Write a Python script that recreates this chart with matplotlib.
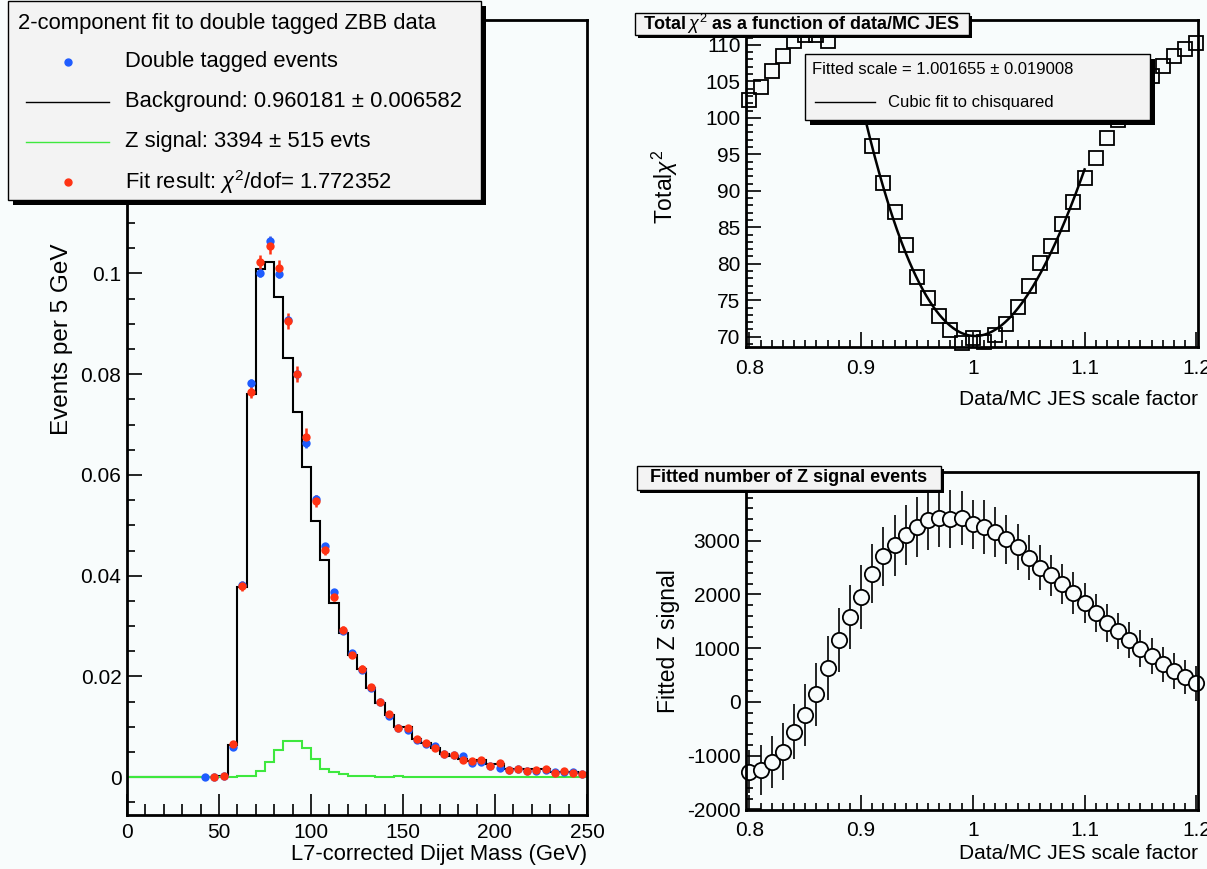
import numpy as np
import matplotlib.pyplot as plt
from matplotlib.patches import Rectangle
from matplotlib.lines import Line2D
from matplotlib.ticker import MultipleLocator, FuncFormatter

plt.rcParams['font.family'] = ['Liberation Sans', 'DejaVu Sans']
plt.rcParams['mathtext.fontset'] = 'custom'
plt.rcParams['mathtext.rm'] = 'Liberation Sans'
plt.rcParams['mathtext.it'] = 'Liberation Sans:italic'

# ---- left panel: dijet mass (5 GeV bins, 0..250) ----
bin_edges = np.arange(0, 255, 5)
background = [0, 0, 0, 0, 0, 0, 0, 0, 0, 0,
              0.0003, 0.0063, 0.0377, 0.0760, 0.1008, 0.1022, 0.0954, 0.0832, 0.0725, 0.0615,
              0.0509, 0.0432, 0.0346, 0.0286, 0.0242, 0.0214, 0.0177, 0.0148, 0.0123, 0.0099,
              0.0099, 0.0075, 0.0067, 0.0058, 0.0047, 0.0042, 0.0037, 0.0032, 0.0034, 0.0027,
              0.0027, 0.0017, 0.0017, 0.0016, 0.0016, 0.0016, 0.0010, 0.0010, 0.0010, 0.0008]
zsignal = [0, 0, 0, 0, 0, 0, 0, 0, 0, 0,
           0, 0.0001, 0.0002, 0.0003, 0.0013, 0.0030, 0.0054, 0.0072, 0.0071, 0.0058,
           0.0037, 0.0017, 0.0010, 0.0006, 0.0003, 0.0002, 0.0002, 0.0001, 0.0001, 0.0002,
           0, 0, 0, 0, 0, 0, 0, 0, 0, 0,
           0, 0, 0, 0, 0, 0, 0, 0, 0, 0]

centers = np.arange(42.5, 250, 5)
data_vals = [0.0000, 0.0000, 0.0003, 0.0060, 0.0381, 0.0782, 0.1001, 0.1065, 0.0999, 0.0907,
             0.0800, 0.0664, 0.0553, 0.0458, 0.0368, 0.0290, 0.0247, 0.0212, 0.0178, 0.0149,
             0.0122, 0.0097, 0.0094, 0.0073, 0.0066, 0.0062, 0.0046, 0.0044, 0.0042, 0.0029,
             0.0031, 0.0023, 0.0019, 0.0015, 0.0016, 0.0012, 0.0012, 0.0015, 0.0010, 0.0011,
             0.0011, 0.0007]
data_err = [0.0001, 0.0001, 0.0001, 0.0003, 0.0007, 0.0008, 0.0009, 0.0010, 0.0009, 0.0009,
            0.0009, 0.0010, 0.0008, 0.0007, 0.0006, 0.0005, 0.0005, 0.0004, 0.0004, 0.0004,
            0.0003, 0.0003, 0.0003, 0.0003, 0.0003, 0.0002, 0.0002, 0.0002, 0.0002, 0.0002,
            0.0002, 0.0002, 0.0001, 0.0001, 0.0001, 0.0001, 0.0001, 0.0001, 0.0001, 0.0001,
            0.0001, 0.0001]
fit_vals = [np.nan, 0.0000, 0.0003, 0.0065, 0.0379, 0.0764, 0.1022, 0.1055, 0.1011, 0.0905,
            0.0800, 0.0675, 0.0548, 0.0451, 0.0358, 0.0292, 0.0243, 0.0215, 0.0179, 0.0149,
            0.0126, 0.0098, 0.0098, 0.0075, 0.0067, 0.0057, 0.0047, 0.0044, 0.0035, 0.0032,
            0.0034, 0.0023, 0.0029, 0.0015, 0.0017, 0.0013, 0.0015, 0.0017, 0.0009, 0.0012,
            0.0008, 0.0007]
fit_err = [0, 0.0001, 0.0002, 0.0005, 0.0010, 0.0012, 0.0015, 0.0017, 0.0015, 0.0016,
           0.0016, 0.0018, 0.0012, 0.0010, 0.0009, 0.0008, 0.0007, 0.0007, 0.0006, 0.0006,
           0.0005, 0.0005, 0.0005, 0.0004, 0.0004, 0.0004, 0.0003, 0.0003, 0.0003, 0.0003,
           0.0003, 0.0002, 0.0002, 0.0002, 0.0002, 0.0002, 0.0002, 0.0002, 0.0002, 0.0002,
           0.0002, 0.0001]

# ---- right panels: JES scale scan ----
jes = np.round(np.arange(0.80, 1.2001, 0.01), 2)
chi2 = [102.4, 104.2, 106.4, 108.4, 110.5, 111.3, 111.4, 110.5, 107.0, 104.0,
        100.5, 96.2, 91.1, 87.1, 82.6, 78.2, 75.3, 72.9, 70.9, 69.1,
        69.8, 69.3, 70.2, 71.8, 74.1, 76.9, 80.1, 82.4, 85.4, 88.4,
        91.8, 94.5, 97.2, 99.7, 102.0, 104.0, 105.7, 107.1, 108.5, 109.4, 110.2]
zfit = [-1300, -1269, -1115, -929, -557, -248, 136, 632, 1146, 1579,
        1950, 2384, 2706, 2910, 3096, 3251, 3375, 3424, 3406, 3424,
        3300, 3251, 3158, 3022, 2879, 2681, 2495, 2353, 2198, 2025,
        1839, 1653, 1467, 1319, 1146, 991, 848, 700, 576, 464, 341]
zfit_err = [402, 464, 480, 526, 508, 570, 588, 594, 594, 600,
            600, 545, 545, 570, 557, 557, 557, 540, 540, 505,
            455, 495, 465, 450, 433, 418, 418, 380, 372, 387,
            365, 356, 350, 340, 340, 340, 330, 325, 330, 316, 322]

W, H = 1207, 869
BG = '#f8fcfc'
BLUE = '#1f5cff'
RED = '#ff3314'
GREEN = '#3ee83e'


def rect(x0, y0, x1, y1):
    return [x0 / W, 1 - y1 / H, (x1 - x0) / W, (y1 - y0) / H]


def fx(x):
    return x / W


def fy(y):
    return 1 - y / H


fmt = FuncFormatter(lambda v, p: f'{v:g}')


def root_axes(ax, xmaj, xmin, ymaj, ymin, xlen, ylen, xpad=5, fs=15):
    ax.set_facecolor(BG)
    ax.set_axisbelow(True)
    for s in ax.spines.values():
        s.set_linewidth(2)
    ax.xaxis.set_major_locator(MultipleLocator(xmaj))
    ax.xaxis.set_minor_locator(MultipleLocator(xmin))
    ax.yaxis.set_major_locator(MultipleLocator(ymaj))
    ax.yaxis.set_minor_locator(MultipleLocator(ymin))
    ax.xaxis.set_major_formatter(fmt)
    ax.yaxis.set_major_formatter(fmt)
    ax.tick_params(which='both', direction='in', top=False, right=False,
                   width=1.2, labelsize=fs)
    ax.tick_params(axis='x', which='major', length=xlen[0], pad=xpad)
    ax.tick_params(axis='x', which='minor', length=xlen[1])
    ax.tick_params(axis='y', which='major', length=ylen[0], pad=4)
    ax.tick_params(axis='y', which='minor', length=ylen[1])


def boxed(x0, y0, x1, y1, shadow, z):
    fig.patches.append(Rectangle((fx(x0 + shadow), fy(y1 + shadow)), (x1 - x0) / W, (y1 - y0) / H,
                                 transform=fig.transFigure, facecolor='black',
                                 edgecolor='none', zorder=z))
    fig.patches.append(Rectangle((fx(x0), fy(y1)), (x1 - x0) / W, (y1 - y0) / H,
                                 transform=fig.transFigure, facecolor='#f3f3f3',
                                 edgecolor='black', lw=1.0, zorder=z + 0.1))


fig = plt.figure(figsize=(W / 100, H / 100), dpi=100, facecolor=BG)

# ---------------- left panel ----------------
ax1 = fig.add_axes(rect(127, 20, 587, 815))
root_axes(ax1, 50, 10, 0.02, 0.005, (15, 8), (11, 5.5), xpad=6)
ax1.stairs(background, bin_edges, color='black', lw=1.5, baseline=None)
ax1.stairs(zsignal, bin_edges, color=GREEN, lw=1.5, baseline=None)
ax1.errorbar(centers, data_vals, yerr=data_err, fmt='o', color=BLUE, ms=6,
             elinewidth=1.8, capsize=0, mew=0)
ax1.errorbar(centers, fit_vals, yerr=fit_err, fmt='o', color=RED, ms=6,
             elinewidth=1.8, capsize=0, mew=0)
ax1.set_xlim(0, 250)
ax1.set_ylim(-0.0075, 0.1503)
ax1.set_xlabel('L7-corrected Dijet Mass (GeV)', fontsize=15.8, loc='right')
ax1.xaxis.set_label_coords(1.0, -0.036)
ax1.set_ylabel('Events per 5 GeV', fontsize=17.5)
ax1.yaxis.set_label_coords(-0.118, 0.598)

boxed(8, 1, 481, 200, 5, 10)
fs_leg = 15.8
fig.text(fx(18), fy(23), '2-component fit to double tagged ZBB data', fontsize=fs_leg,
         va='center', ha='left', zorder=12)
rows = [62, 102, 142, 182]
labels = ['Double tagged events', 'Background: 0.960181 \u00b1 0.006582',
          'Z signal: 3394 \u00b1 515 evts', r'Fit result: $\chi^{2}$/dof= 1.772352']
for yy, lab in zip(rows, labels):
    fig.text(fx(125), fy(yy), lab, fontsize=fs_leg, va='center', ha='left', zorder=12)
fig.add_artist(Line2D([fx(68)], [fy(62)], marker='o', ms=5, color=BLUE, lw=0,
                      transform=fig.transFigure, zorder=12))
fig.add_artist(Line2D([fx(26), fx(109)], [fy(102)] * 2, color='black', lw=1,
                      transform=fig.transFigure, zorder=12))
fig.add_artist(Line2D([fx(26), fx(109)], [fy(142)] * 2, color=GREEN, lw=1,
                      transform=fig.transFigure, zorder=12))
fig.add_artist(Line2D([fx(68)], [fy(182)], marker='o', ms=5, color=RED, lw=0,
                      transform=fig.transFigure, zorder=12))

# ---------------- top right: chi2 scan ----------------
ax2 = fig.add_axes(rect(746, 20, 1198, 347))
root_axes(ax2, 0.1, 0.01, 5, 1, (11, 5), (11, 5), xpad=9)
ax2.plot(jes, chi2, 's', mfc='none', mec='black', ms=9.5, mew=1.3, clip_on=False)
sel = (jes >= 0.895) & (jes <= 1.105)
coef = np.polyfit(jes[sel], np.array(chi2)[sel], 3)
xf = np.linspace(0.9, 1.1, 200)
ax2.plot(xf, np.polyval(coef, xf), color='black', lw=1.8)
ax2.set_xlim(0.797, 1.2015)
ax2.set_ylim(68.6, 113.4)
ax2.set_xlabel('Data/MC JES scale factor', fontsize=15, loc='right')
ax2.xaxis.set_label_coords(1.0, -0.13)
ax2.set_ylabel(r'Total$\chi^{2}$', fontsize=16.5)
ax2.yaxis.set_label_coords(-0.145, 0.49)

boxed(635, 13, 969, 35, 3, 10)
fig.text(fx(802), fy(24), r'Total$\,\chi^{2}$ as a function of data/MC JES', fontsize=13,
         fontweight='bold', va='center', ha='center', zorder=12)

boxed(805, 54, 1150, 120, 5, 10)
fig.text(fx(812), fy(70), 'Fitted scale = 1.001655 \u00b1 0.019008', fontsize=12,
         va='center', ha='left', zorder=12)
fig.add_artist(Line2D([fx(815), fx(875)], [fy(102)] * 2, color='black', lw=1,
                      transform=fig.transFigure, zorder=12))
fig.text(fx(888), fy(102), 'Cubic fit to chisquared', fontsize=12,
         va='center', ha='left', zorder=12)

# ---------------- bottom right: fitted Z signal ----------------
ax3 = fig.add_axes(rect(746, 472, 1198, 810))
root_axes(ax3, 0.1, 0.01, 1000, 200, (11, 5), (11, 5), xpad=8)
ax3.yaxis.set_major_formatter(FuncFormatter(lambda v, p: f'{v:g}' if v < 3500 else ''))
ax3.errorbar(jes, zfit, yerr=zfit_err, fmt='o', mfc=BG, mec='black', ecolor='black',
             ms=11, mew=1.3, elinewidth=1.2, capsize=0, clip_on=False)
ax3.set_xlim(0.797, 1.2015)
ax3.set_ylim(-2013, 4275)
ax3.set_xlabel('Data/MC JES scale factor', fontsize=15, loc='right')
ax3.xaxis.set_label_coords(1.0, -0.1)
ax3.set_ylabel('Fitted Z signal', fontsize=16.5)
ax3.yaxis.set_label_coords(-0.145, 0.5)

boxed(637, 466, 941, 490, 3, 10)
fig.text(fx(789), fy(478), 'Fitted number of Z signal events', fontsize=13,
         fontweight='bold', va='center', ha='center', zorder=12)

fig.savefig('out.png', dpi=100, facecolor=BG)
